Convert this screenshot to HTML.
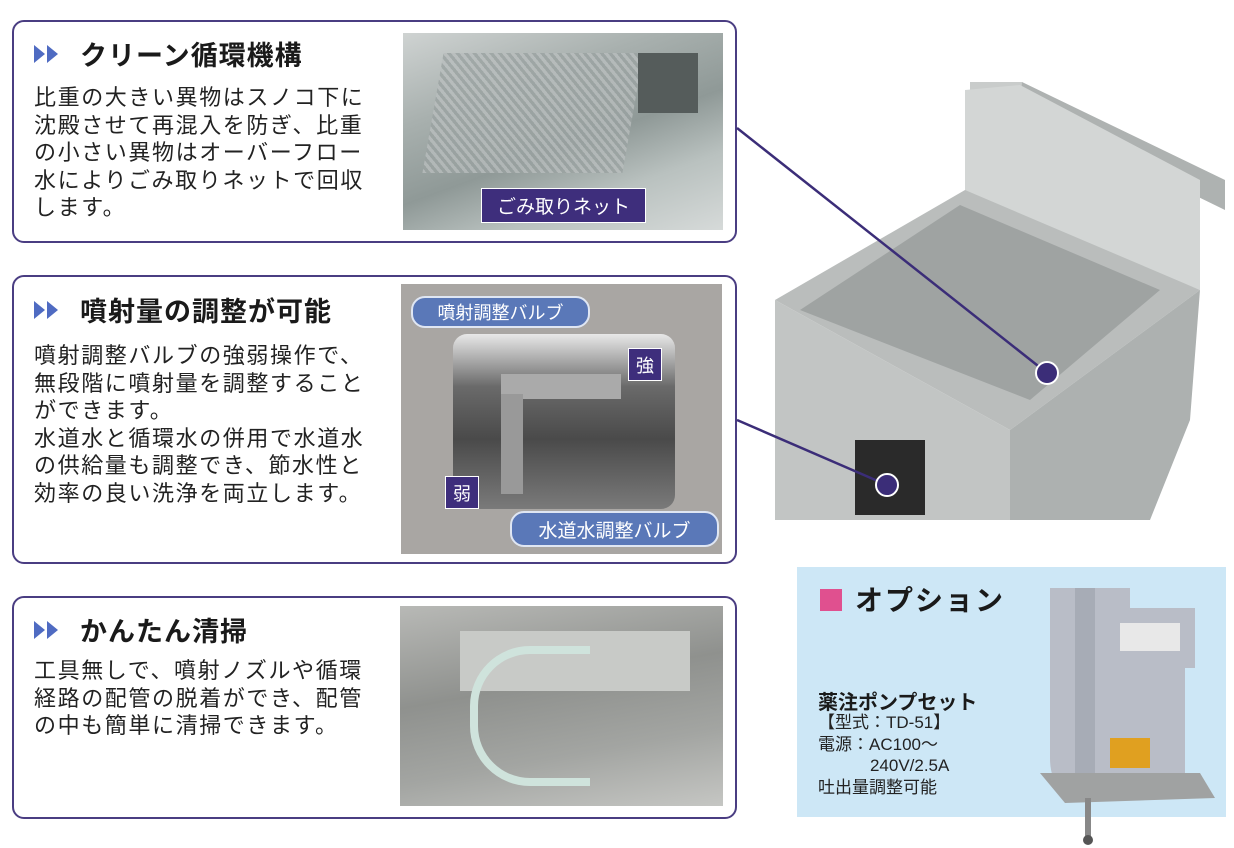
<!DOCTYPE html>
<html><head><meta charset="utf-8"><style>
*{margin:0;padding:0;box-sizing:border-box}
body{width:1234px;height:848px;background:#fff;position:relative;overflow:hidden;font-family:"Liberation Sans","Noto Sans CJK JP",sans-serif;color:#222}
.box{position:absolute;left:12px;width:725px;border:2.5px solid #4a3d82;border-radius:12px;background:#fff}
.t{position:absolute;left:20px;font-size:27px;font-weight:bold;color:#1a1a1a;white-space:nowrap;letter-spacing:1px}
.t span{margin-left:46px}
.t i{position:absolute;left:13px;top:11px;border-left:11px solid #4f6bc2;border-top:9px solid transparent;border-bottom:9px solid transparent}
.b{position:absolute;left:20px;font-size:22px;line-height:27.5px;color:#222;white-space:nowrap;letter-spacing:1.6px}
.ph{position:absolute;overflow:hidden}
.lab{position:absolute;color:#fff;font-size:18px;display:flex;align-items:center;justify-content:center;white-space:nowrap}
.sq{background:#3e2e7c;border:1.5px solid #fff}
.pill{background:#5a78b8;border:2px solid #dfe6f3;border-radius:14px}
.dot{position:absolute;width:24px;height:24px;border-radius:50%;background:#3b2d78;border:2px solid #fff}
</style></head><body>

<div class="box" style="top:20px;height:223px">
 <div class="t" style="top:12px"><i style="left:0"></i><i></i><span>クリーン循環機構</span></div>
 <div class="b" style="top:62px">比重の大きい異物はスノコ下に<br>沈殿させて再混入を防ぎ、比重<br>の小さい異物はオーバーフロー<br>水によりごみ取りネットで回収<br>します。</div>
</div>
<div class="ph" style="left:403px;top:33px;width:320px;height:197px;background:linear-gradient(160deg,#cfd3d2 0%,#a8b0ae 30%,#8f9997 55%,#b9c1bf 75%,#d6dad9 100%)">
 <div style="position:absolute;left:30px;top:20px;width:200px;height:120px;background:repeating-linear-gradient(45deg,#b8bdbd 0 3px,#9aa2a1 3px 6px);opacity:.8;transform:skewX(-10deg)"></div>
 <div style="position:absolute;left:235px;top:20px;width:60px;height:60px;background:#555c5b"></div>
</div>
<div class="lab sq" style="left:481px;top:188px;width:165px;height:35px;font-size:19px">ごみ取りネット</div>

<div class="box" style="top:275px;height:289px">
 <div class="t" style="top:13px"><i style="left:0"></i><i></i><span>噴射量の調整が可能</span></div>
 <div class="b" style="top:65px">噴射調整バルブの強弱操作で、<br>無段階に噴射量を調整すること<br>ができます。<br>水道水と循環水の併用で水道水<br>の供給量も調整でき、節水性と<br>効率の良い洗浄を両立します。</div>
</div>
<div class="ph" style="left:401px;top:284px;width:321px;height:270px;background:#a9a6a3">
 <div style="position:absolute;left:52px;top:50px;width:222px;height:175px;border-radius:14px;background:linear-gradient(180deg,#e8e8e8 0%,#6a6a6a 30%,#4a4a4a 60%,#7a7a7a 100%)"></div>
 <div style="position:absolute;left:100px;top:90px;width:120px;height:25px;background:#aaa"></div>
 <div style="position:absolute;left:100px;top:110px;width:22px;height:100px;background:#999"></div>
</div>
<div class="lab pill" style="left:411px;top:296px;width:179px;height:32px">噴射調整バルブ</div>
<div class="lab sq" style="left:628px;top:348px;width:34px;height:33px">強</div>
<div class="lab sq" style="left:445px;top:476px;width:34px;height:33px">弱</div>
<div class="lab pill" style="left:510px;top:511px;width:209px;height:36px;font-size:19px">水道水調整バルブ</div>

<div class="box" style="top:596px;height:223px">
 <div class="t" style="top:12px"><i style="left:0"></i><i></i><span>かんたん清掃</span></div>
 <div class="b" style="top:59px">工具無しで、噴射ノズルや循環<br>経路の配管の脱着ができ、配管<br>の中も簡単に清掃できます。</div>
</div>
<div class="ph" style="left:400px;top:606px;width:323px;height:200px;background:linear-gradient(170deg,#b8b9b6 0%,#8f918e 40%,#a3a5a2 70%,#c5c6c3 100%)">
 <div style="position:absolute;left:60px;top:25px;width:230px;height:60px;background:#c8cac7"></div>
 <div style="position:absolute;left:70px;top:40px;width:120px;height:140px;border:8px solid #cfe3dc;border-radius:60px 0 0 60px;border-right:none"></div>
</div>

<svg style="position:absolute;left:0;top:0" width="1234" height="848">
 <polygon points="970,82 1022,82 1022,180 970,190" fill="#c9cccb"/>
 <polygon points="1022,82 1225,180 1225,210 1020,110" fill="#aeb2b1"/>
 <polygon points="965,90 1020,85 1200,180 1200,290 965,195" fill="#d3d6d5"/>
 <polygon points="775,300 965,190 1200,290 1010,430" fill="#babdbc"/>
 <polygon points="800,310 960,205 1160,290 1030,400" fill="#9fa3a2"/>
 <polygon points="775,300 1010,430 1010,520 775,520" fill="#c2c5c4"/>
 <polygon points="1010,430 1200,290 1190,420 1150,520 1010,520" fill="#adb1b0"/>
 <rect x="855" y="440" width="70" height="75" fill="#2a2a2a"/>
 <line x1="737" y1="128" x2="1047" y2="373" stroke="#3b2d78" stroke-width="2.5"/>
 <line x1="737" y1="420" x2="887" y2="485" stroke="#3b2d78" stroke-width="2.5"/>
</svg>
<div class="dot" style="left:1035px;top:361px"></div>
<div class="dot" style="left:875px;top:473px"></div>

<div style="position:absolute;left:797px;top:567px;width:429px;height:250px;background:#cde7f6"></div>
<div style="position:absolute;left:820px;top:589px;width:22px;height:22px;background:#e0508f"></div>
<div style="position:absolute;left:855px;top:579px;font-size:28px;font-weight:bold;color:#1a1a1a;letter-spacing:2px">オプション</div>
<div style="position:absolute;left:818px;top:686px;font-size:20px;font-weight:bold;color:#1a1a1a">薬注ポンプセット</div>
<div style="position:absolute;left:818px;top:712px;font-size:17px;line-height:21.5px;color:#222;white-space:nowrap">【型式：TD-51】<br>電源：AC100～<br>&nbsp;&nbsp;&nbsp;&nbsp;&nbsp;&nbsp;&nbsp;&nbsp;&nbsp;&nbsp;&nbsp;240V/2.5A<br>吐出量調整可能</div>
<svg style="position:absolute;left:1030px;top:578px" width="200" height="270">
 <path d="M20,10 H100 V30 H165 V90 H155 V210 H30 Q20,200 20,180 Z" fill="#b9bdc7"/>
 <rect x="45" y="10" width="20" height="200" fill="#a7acb6"/>
 <rect x="90" y="45" width="60" height="28" fill="#e8e8e8"/>
 <rect x="80" y="160" width="40" height="30" fill="#e0a020"/>
 <polygon points="10,195 170,195 185,220 35,225" fill="#a0a2a2"/>
 <rect x="55" y="220" width="6" height="40" fill="#888"/>
 <circle cx="58" cy="262" r="5" fill="#555"/>
</svg>
</body></html>
